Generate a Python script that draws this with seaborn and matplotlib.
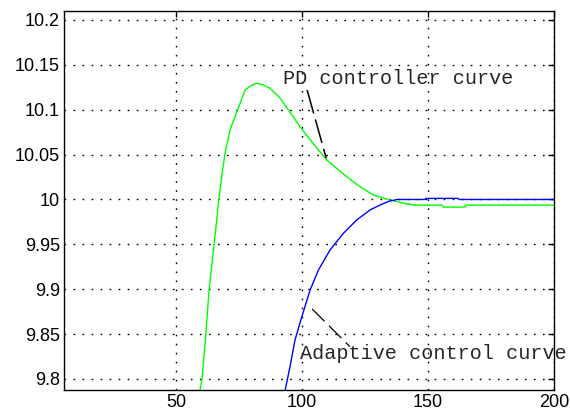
import matplotlib
matplotlib.use('Agg')
import matplotlib.pyplot as plt
import seaborn as sns

# PD controller response (green)
pd_t = [59.5, 60.3, 61.8, 63.1, 65.1, 66.8, 68.1, 69.4, 71.4, 73.4, 75.4, 77.4,
        79.5, 82.0, 84.5, 87.3, 91.3, 99.2, 104.5, 109.8, 117.7, 123.0, 128.3,
        134.9, 141.7, 145.0, 155.6, 156.0, 164.7, 165.1, 200.0]
pd_y = [9.788, 9.800, 9.850, 9.900, 9.950, 9.996, 10.025, 10.0515, 10.0775, 10.0923,
        10.1072, 10.122, 10.1265, 10.1295, 10.1278, 10.1239, 10.1128, 10.0811, 10.062,
        10.044, 10.0254, 10.0143, 10.005, 9.9994, 9.995, 9.9937, 9.9937, 9.9915,
        9.9915, 9.9937, 9.9937]

# adaptive control response (blue)
ad_t = [93.3, 95.3, 97.2, 99.9, 103.2, 106.5, 111.1, 116.4, 121.7, 127.0, 131.0,
        134.5, 137.7, 148.8, 149.3, 161.9, 162.4, 200.0]
ad_y = [9.7877, 9.815, 9.8435, 9.8694, 9.8992, 9.9214, 9.9437, 9.9623, 9.9772, 9.9883,
        9.9939, 9.998, 10.000, 10.000, 10.0012, 10.0012, 10.000, 10.000]

x_ticks = [50, 100, 150, 200]
y_ticks = [9.8, 9.85, 9.9, 9.95, 10.0, 10.05, 10.1, 10.15, 10.2]
y_tick_labels = ['9.8', '9.85', '9.9', '9.95', '10', '10.05', '10.1', '10.15', '10.2']

# labels and their pointer lines
pd_label = 'PD controller curve'
pd_label_pos = (92.5, 10.1345)
pd_pointer_x = [102.0, 109.6]
pd_pointer_y = [10.122, 10.046]

ad_label = 'Adaptive control curve'
ad_label_pos = (99.2, 9.828)
ad_pointer_x = [104.0, 119.0]
ad_pointer_y = [9.878, 9.836]

sns.set_style('white')
plt.rcParams['font.family'] = ['Liberation Sans', 'DejaVu Sans']

fig = plt.figure(figsize=(5.7, 4.2), dpi=100)
ax = fig.add_axes([0.1123, 0.0714, 0.8596, 0.9024])

sns.lineplot(x=pd_t, y=pd_y, ax=ax, color='#00ff00', linewidth=1.0,
             sort=False, estimator=None)
sns.lineplot(x=ad_t, y=ad_y, ax=ax, color='#0000ff', linewidth=1.0,
             sort=False, estimator=None)

ax.plot(pd_pointer_x, pd_pointer_y, color='black', linewidth=1.1,
        linestyle=(0, (16, 4)))
ax.plot(ad_pointer_x, ad_pointer_y, color='black', linewidth=0.9,
        linestyle=(0, (14, 5)))

ax.text(pd_label_pos[0], pd_label_pos[1], pd_label, family='Liberation Mono',
        fontsize=14.5, va='center', ha='left')
ax.text(ad_label_pos[0], ad_label_pos[1], ad_label, family='Liberation Mono',
        fontsize=14.5, va='center', ha='left', clip_on=False)

ax.set_xlim(5.5, 200)
ax.set_ylim(9.7877, 10.21)
ax.set_xticks(x_ticks)
ax.set_xticklabels([str(v) for v in x_ticks])
ax.set_yticks(y_ticks)
ax.set_yticklabels(y_tick_labels)

ax.grid(True, color='black', linestyle=(0, (1.2, 5.3)), linewidth=1.0)
for s in ax.spines.values():
    s.set_color('black')
    s.set_linewidth(1.0)
    s.set_visible(True)
ax.tick_params(direction='in', length=4, width=1, colors='black',
               top=True, right=True, labelsize=13, pad=3)
ax.set_xlabel('')
ax.set_ylabel('')

fig.savefig('out.png', dpi=100)
